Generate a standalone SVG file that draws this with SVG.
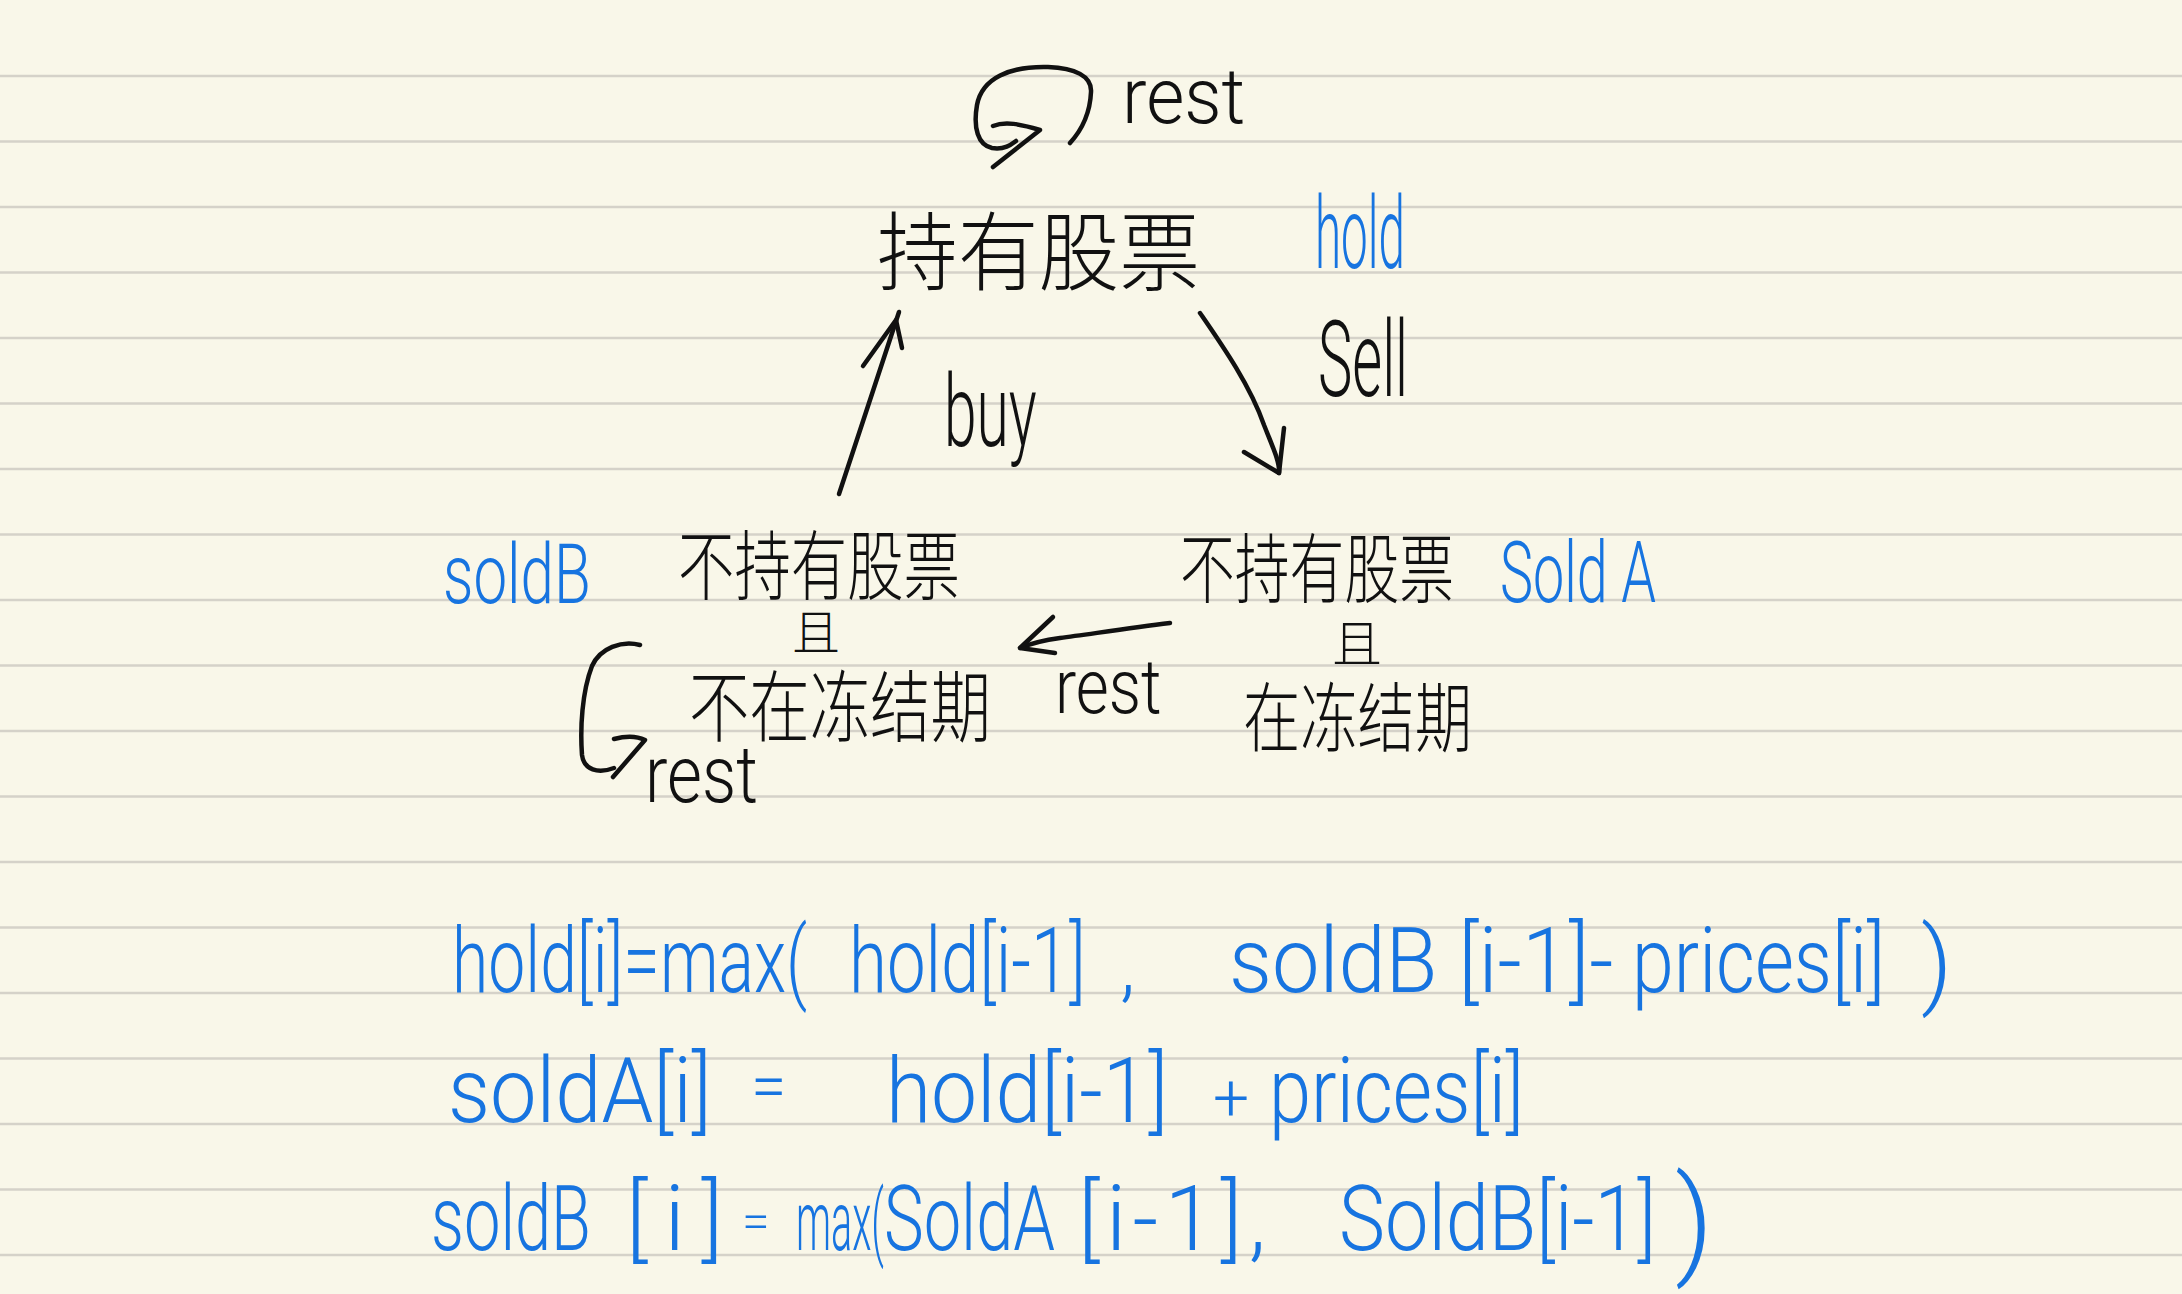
<svg xmlns="http://www.w3.org/2000/svg" width="2182" height="1294" viewBox="0 0 2182 1294">
<defs>
<style>
.paper{fill:#f9f7e9}
.rule{stroke:#d5d2c9;stroke-width:2.5}
.ink{fill:none;stroke:#111;stroke-width:4.5;stroke-linecap:round;stroke-linejoin:round}
.bk{fill:#111;font-family:Roboto,"Liberation Sans",sans-serif;font-weight:300}
.bl{fill:#1774e0;font-family:Roboto,"Liberation Sans",sans-serif;font-weight:300}
.cn{fill:#111;font-family:"Noto Sans CJK SC",sans-serif;font-weight:300}
</style>
</defs>
<rect class="paper" x="0" y="0" width="2182" height="1294"/>
<g id="rules">
<line class="rule" x1="0" y1="76" x2="2182" y2="76"/>
<line class="rule" x1="0" y1="141.5" x2="2182" y2="141.5"/>
<line class="rule" x1="0" y1="207" x2="2182" y2="207"/>
<line class="rule" x1="0" y1="272.5" x2="2182" y2="272.5"/>
<line class="rule" x1="0" y1="338" x2="2182" y2="338"/>
<line class="rule" x1="0" y1="403.5" x2="2182" y2="403.5"/>
<line class="rule" x1="0" y1="469" x2="2182" y2="469"/>
<line class="rule" x1="0" y1="534.5" x2="2182" y2="534.5"/>
<line class="rule" x1="0" y1="600" x2="2182" y2="600"/>
<line class="rule" x1="0" y1="665.5" x2="2182" y2="665.5"/>
<line class="rule" x1="0" y1="731" x2="2182" y2="731"/>
<line class="rule" x1="0" y1="796.5" x2="2182" y2="796.5"/>
<line class="rule" x1="0" y1="862" x2="2182" y2="862"/>
<line class="rule" x1="0" y1="927.5" x2="2182" y2="927.5"/>
<line class="rule" x1="0" y1="993" x2="2182" y2="993"/>
<line class="rule" x1="0" y1="1058.5" x2="2182" y2="1058.5"/>
<line class="rule" x1="0" y1="1124" x2="2182" y2="1124"/>
<line class="rule" x1="0" y1="1189.5" x2="2182" y2="1189.5"/>
<line class="rule" x1="0" y1="1255" x2="2182" y2="1255"/>
</g>

<g id="node-hold">
<text class="cn" transform="translate(877,284) scale(0.939,1)" font-size="86" textLength="344" lengthAdjust="spacingAndGlyphs">持有股票</text>
<text class="bl" transform="translate(1315,268) scale(0.468,1)" font-size="100" textLength="192" lengthAdjust="spacingAndGlyphs">hold</text>
</g>

<g id="node-soldB">
<text class="bl" transform="translate(443,603) scale(0.70,1)" font-size="84" textLength="211" lengthAdjust="spacingAndGlyphs">soldB</text>
<text class="cn" transform="translate(678,594) scale(0.742,1)" font-size="76" textLength="380" lengthAdjust="spacingAndGlyphs">不持有股票</text>
<text class="cn" x="792" y="650" font-size="48">且</text>
<text class="cn" transform="translate(689,736) scale(0.774,1)" font-size="78" textLength="390" lengthAdjust="spacingAndGlyphs">不在冻结期</text>
</g>

<g id="node-soldA">
<text class="cn" transform="translate(1180,597) scale(0.721,1)" font-size="76" textLength="380" lengthAdjust="spacingAndGlyphs">不持有股票</text>
<text class="cn" x="1332" y="662" font-size="50">且</text>
<text class="cn" transform="translate(1243,746) scale(0.753,1)" font-size="76" textLength="304" lengthAdjust="spacingAndGlyphs">在冻结期</text>
<text class="bl" transform="translate(1500,602) scale(0.634,1)" font-size="86" textLength="246" lengthAdjust="spacingAndGlyphs">Sold A</text>
</g>

<g id="connectors">
<path class="ink" d="M1070,143 C1080,132 1090,115 1091,92 C1092,76 1075,68 1048,67 C1010,66 982,78 977,105 C973,128 978,145 992,148 C1005,150 1012,144 1016,141"/>
<path class="ink" d="M993,126 C1005,121 1020,124 1040,130 L993,167"/>
<path class="ink" d="M839,494 L899,312"/>
<path class="ink" d="M863,366 L896,320 L902,348"/>
<path class="ink" d="M1200,313 C1222,345 1250,385 1264,425 C1274,450 1280,463 1279,473"/>
<path class="ink" d="M1244,452 L1279,473 L1284,428"/>
<path class="ink" d="M1170,623 C1130,628 1090,634 1060,638 C1045,640 1032,643 1020,648"/>
<path class="ink" d="M1053,617 L1020,648 L1055,653"/>
<path class="ink" d="M640,645 C622,640 600,648 592,666 C582,692 580,728 582,755 C584,770 598,774 614,768"/>
<path class="ink" d="M614,739 C625,736 637,736 645,740 L613,777"/>
</g>

<g id="edge-labels">
<text class="bk" transform="translate(1122,123) scale(0.92,1)" font-size="78" textLength="134" lengthAdjust="spacingAndGlyphs">rest</text>
<text class="bk" transform="translate(944,446) scale(0.587,1)" font-size="100" textLength="158" lengthAdjust="spacingAndGlyphs">buy</text>
<text class="bk" transform="translate(1318,396) scale(0.53,1)" font-size="106" textLength="170" lengthAdjust="spacingAndGlyphs">Sell</text>
<text class="bk" transform="translate(1055,713) scale(0.82,1)" font-size="76" textLength="130" lengthAdjust="spacingAndGlyphs">rest</text>
<text class="bk" transform="translate(645,802) scale(0.83,1)" font-size="80" textLength="136" lengthAdjust="spacingAndGlyphs">rest</text>
</g>

<g id="formulas">
<text class="bl" transform="translate(452,992) scale(0.716,1)" font-size="90" textLength="496" lengthAdjust="spacingAndGlyphs">hold[i]=max(</text>
<text class="bl" transform="translate(849,992) scale(0.745,1)" font-size="90" textLength="318" lengthAdjust="spacingAndGlyphs">hold[i-1]</text>
<text class="bl" x="1120" y="992" font-size="80">,</text>
<text class="bl" transform="translate(1229,992) scale(0.92,1)" font-size="90" textLength="418" lengthAdjust="spacingAndGlyphs">soldB [i-1]-</text>
<text class="bl" transform="translate(1632,992) scale(0.806,1)" font-size="90" textLength="314" lengthAdjust="spacingAndGlyphs">prices[i]</text>
<text class="bl" x="1921" y="996" font-size="96">)</text>

<text class="bl" transform="translate(448,1122) scale(0.885,1)" font-size="90" textLength="298" lengthAdjust="spacingAndGlyphs">soldA[i]</text>
<text class="bl" x="751" y="1108" font-size="64">=</text>
<text class="bl" transform="translate(886,1122) scale(0.887,1)" font-size="90" textLength="318" lengthAdjust="spacingAndGlyphs">hold[i-1]</text>
<text class="bl" x="1213" y="1120" font-size="64">+</text>
<text class="bl" transform="translate(1269,1122) scale(0.812,1)" font-size="90" textLength="314" lengthAdjust="spacingAndGlyphs">prices[i]</text>

<text class="bl" transform="translate(431,1250) scale(0.708,1)" font-size="90" textLength="226" lengthAdjust="spacingAndGlyphs">soldB</text>
<text class="bl" x="626" y="1250" font-size="90" textLength="97" lengthAdjust="spacing">[i]</text>
<text class="bl" x="742" y="1238" font-size="50">=</text>
<text class="bl" transform="translate(796,1250) scale(0.463,1)" font-size="84" textLength="190" lengthAdjust="spacingAndGlyphs">max(</text>
<text class="bl" transform="translate(884,1250) scale(0.725,1)" font-size="90" textLength="236" lengthAdjust="spacingAndGlyphs">SoldA</text>
<text class="bl" x="1078" y="1250" font-size="90" textLength="188" lengthAdjust="spacing">[i-1],</text>
<text class="bl" transform="translate(1339,1250) scale(0.839,1)" font-size="90" textLength="378" lengthAdjust="spacingAndGlyphs">SoldB[i-1]</text>
<text class="bl" x="1675" y="1262" font-size="118">)</text>
</g>
</svg>
